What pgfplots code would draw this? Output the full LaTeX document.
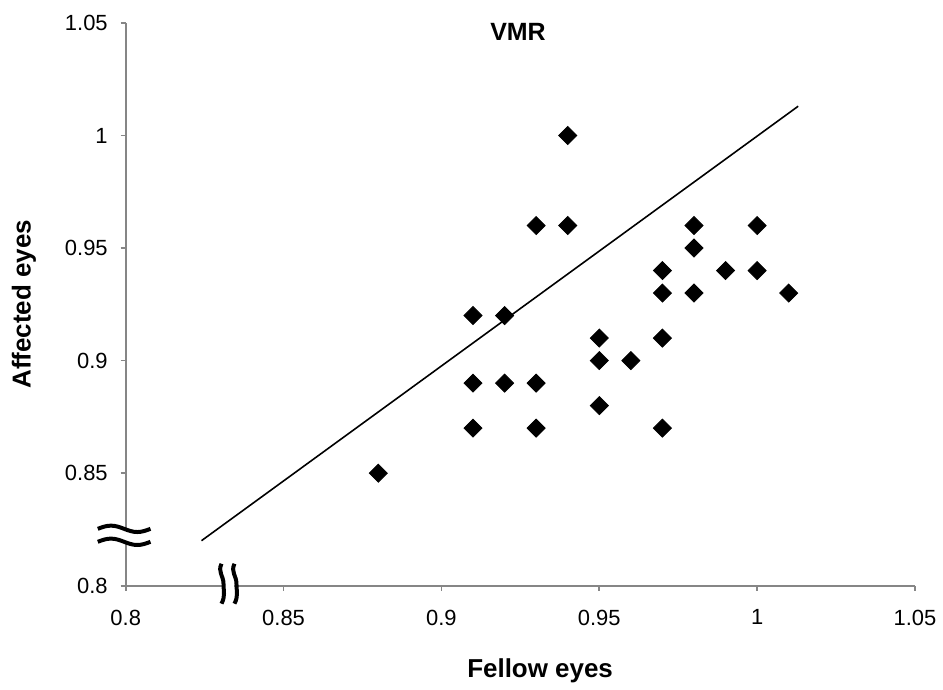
\documentclass[border=0pt]{standalone}
\usepackage{fontspec}
\setmainfont{Liberation Sans}
\usepackage{pgfplots}
\pgfplotsset{compat=1.18}

\definecolor{axisgray}{RGB}{134,134,134}

\begin{document}
\begin{tikzpicture}
\begin{axis}[
    scale only axis,
    width=395.5pt, height=282pt,
    xmin=0.8, xmax=1.05, ymin=0.8, ymax=1.05,
    axis x line=bottom, axis y line=left,
    axis line style={axisgray, line width=0.8pt, -},
    xtick={0.8,0.85,0.9,0.95,1,1.05},
    ytick={0.8,0.85,0.9,0.95,1,1.05},
    xticklabels={0.8,0.85,0.9,0.95,1,1.05},
    yticklabels={0.8,0.85,0.9,0.95,1,1.05},
    tick align=outside, major tick length=2.5pt,
    tick style={axisgray, line width=0.8pt},
    ticklabel style={font=\fontsize{11}{12}\selectfont},
    xticklabel style={yshift=-6pt},
    yticklabel style={xshift=-3pt},
    label style={font=\fontsize{13}{15}\selectfont\bfseries},
    xlabel={Fellow eyes},
    ylabel={Affected eyes},
    xlabel style={at={(axis description cs:0.525,-0.152)}, anchor=center},
    ylabel style={at={(axis description cs:-0.129,0.5)}, anchor=center},
    clip=false,
]
\addplot[only marks, mark=square*, mark size=3.2pt,
    mark options={rotate=45, fill=black, draw=black}] coordinates {
    (0.94,1.00) (0.93,0.96) (0.94,0.96) (0.91,0.92) (0.92,0.92)
    (0.91,0.89) (0.92,0.89) (0.93,0.89) (0.91,0.87) (0.93,0.87)
    (0.88,0.85) (0.95,0.91) (0.95,0.90) (0.96,0.90) (0.95,0.88)
    (0.97,0.94) (0.97,0.93) (0.97,0.91) (0.97,0.87) (0.98,0.96)
    (0.98,0.95) (0.98,0.93) (0.99,0.94) (1.00,0.96) (1.00,0.94)
    (1.01,0.93)
};
\addplot[black, line width=0.8pt] coordinates {(0.824,0.820) (1.013,1.013)};

\node[font=\fontsize{12.5}{14}\selectfont\bfseries, anchor=center]
    at (rel axis cs:0.497,0.984) {VMR};

% axis breaks
\fill[white] ([xshift=-3pt,yshift=22pt]rel axis cs:0,0) rectangle ([xshift=3pt,yshift=28pt]rel axis cs:0,0);
\draw[line width=2pt] ([xshift=-14pt,yshift=28.5pt]rel axis cs:0,0)
    sin ++(6.6pt,1.6pt) cos ++(6.6pt,-1.6pt) sin ++(6.6pt,-1.6pt) cos ++(6.6pt,1.6pt);
\draw[line width=2pt] ([xshift=-14pt,yshift=22pt]rel axis cs:0,0)
    sin ++(6.6pt,1.6pt) cos ++(6.6pt,-1.6pt) sin ++(6.6pt,-1.6pt) cos ++(6.6pt,1.6pt);
\fill[white] ([xshift=48pt,yshift=-2pt]rel axis cs:0,0) rectangle ([xshift=54.5pt,yshift=2pt]rel axis cs:0,0);
\draw[line width=2pt] ([xshift=48pt,yshift=11pt]rel axis cs:0,0)
    .. controls +(-2pt,-4pt) and +(0pt,4pt) .. ++(1pt,-10pt)
    .. controls +(0pt,-4pt) and +(2pt,4pt) .. ++(-1pt,-10pt);
\draw[line width=2pt] ([xshift=54.5pt,yshift=11pt]rel axis cs:0,0)
    .. controls +(-2pt,-4pt) and +(0pt,4pt) .. ++(1pt,-10pt)
    .. controls +(0pt,-4pt) and +(2pt,4pt) .. ++(-1pt,-10pt);

% picture frame
\path ([xshift=-63pt,yshift=-50.5pt]rel axis cs:0,0) rectangle ([xshift=13pt,yshift=11.5pt]rel axis cs:1,1);
\end{axis}
\end{tikzpicture}
\end{document}
